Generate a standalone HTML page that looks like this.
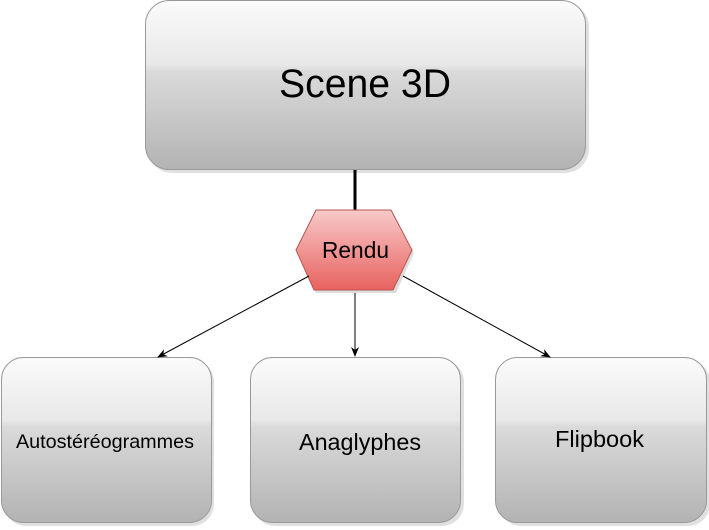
<!DOCTYPE html>
<html><head><meta charset="utf-8"><style>html,body{margin:0;padding:0;background:#fff;}svg{display:block}</style></head>
<body>
<svg width="709" height="530" viewBox="0 0 709 530" xmlns="http://www.w3.org/2000/svg" font-family="Liberation Sans, Arial, sans-serif">
<defs>
<linearGradient id="g" x1="0" y1="0" x2="0" y2="1">
<stop offset="0" stop-color="#fbfbfb"/><stop offset="0.38" stop-color="#e8e8e8"/><stop offset="0.42" stop-color="#dadada"/><stop offset="1" stop-color="#b3b3b3"/>
</linearGradient>
<linearGradient id="r" x1="0" y1="0" x2="0" y2="1">
<stop offset="0" stop-color="#f7caca"/><stop offset="1" stop-color="#e8625f"/>
</linearGradient>
<marker id="a" markerWidth="10" markerHeight="8" refX="9" refY="4" orient="auto" markerUnits="userSpaceOnUse">
<path d="M0,0 L10,4 L0,8 L3,4 Z" fill="#000"/></marker>
</defs>
<g fill="#ccc" opacity="0.6">
<rect x="148" y="3" width="441" height="170" rx="24"/>
<rect x="4" y="360" width="210" height="166" rx="22"/>
<rect x="253" y="360" width="211" height="166" rx="22"/>
<rect x="499" y="360" width="211" height="166" rx="22"/>
</g>
<rect x="145.5" y="0.5" width="440" height="169" rx="24" fill="url(#g)" stroke="#999"/>
<rect x="1.5" y="357.5" width="210" height="165" rx="22" fill="url(#g)" stroke="#999"/>
<rect x="250.5" y="357.5" width="210" height="165" rx="22" fill="url(#g)" stroke="#999"/>
<rect x="495.5" y="357.5" width="211" height="165" rx="22" fill="url(#g)" stroke="#999"/>
<line x1="355" y1="170" x2="355" y2="211" stroke="#000" stroke-width="3"/>
<polygon points="298,253 318,213 393,213 414,253 396,293 316,293" fill="#bbb" opacity="0.5"/>
<polygon points="296,250 316,210 391,210 412,250 393,290 314,290" fill="url(#r)" stroke="#b85450"/>
<line x1="309" y1="276" x2="158" y2="357" stroke="#000" marker-end="url(#a)"/>
<line x1="355" y1="293" x2="355" y2="356" stroke="#000" marker-end="url(#a)"/>
<line x1="403" y1="276" x2="550" y2="357" stroke="#000" marker-end="url(#a)"/>
<text x="279" y="97" font-size="40" textLength="172" lengthAdjust="spacingAndGlyphs">Scene 3D</text>
<text x="322" y="258" font-size="23" textLength="67" lengthAdjust="spacingAndGlyphs">Rendu</text>
<text x="16" y="448" font-size="19.5" textLength="178" lengthAdjust="spacingAndGlyphs">Autostéréogrammes</text>
<text x="299" y="450" font-size="23.5" textLength="122" lengthAdjust="spacingAndGlyphs">Anaglyphes</text>
<text x="555" y="447" font-size="23.5" textLength="89" lengthAdjust="spacingAndGlyphs">Flipbook</text>
</svg>
</body></html>
